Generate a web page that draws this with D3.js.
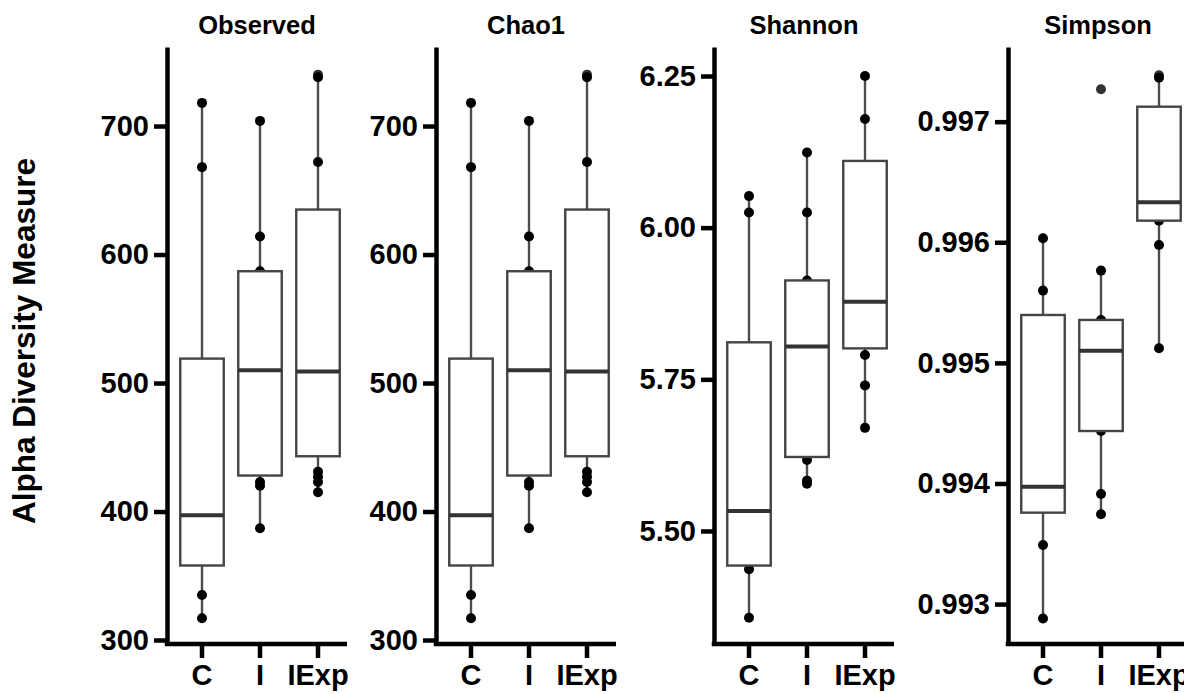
<!DOCTYPE html>
<html>
<head>
<meta charset="utf-8">
<script src="https://cdn.jsdelivr.net/npm/d3@7"></script>
<style>
  body { margin: 0; background: #fff; }
  svg text { font-family: "Liberation Sans", Arial, sans-serif; font-weight: bold; fill: #000; }
</style>
</head>
<body>
<svg id="chart"></svg>
<script>
// groups on the x axis
const groups = ["C", "I", "IExp"];
const metrics = ["Observed", "Chao1", "Shannon", "Simpson"];

// box stats per group: [lower whisker, q1, median, q3, upper whisker]
const observedBox = [[317, 358, 397, 519, 718], [387, 428, 510, 587, 704], [415, 443, 509, 635, 739]];
const observedPts = [[718, 668, 335, 317], [704, 614, 587, 423, 420, 387], [740, 738, 672, 431, 427, 423, 415]];

const chao1Box = [[317, 358, 397, 519, 718], [387, 428, 510, 587, 704], [415, 443, 509, 635, 739]];
const chao1Pts = [[718, 668, 335, 317], [704, 614, 587, 423, 420, 387], [740, 738, 672, 431, 427, 423, 415]];

const shannonBox = [[5.357, 5.443, 5.533, 5.811, 6.052], [5.578, 5.622, 5.804, 5.913, 6.124], [5.670, 5.801, 5.878, 6.110, 6.250]];
const shannonPts = [[6.052, 6.025, 5.437, 5.357], [6.124, 6.025, 5.913, 5.617, 5.583, 5.578], [6.250, 6.179, 5.790, 5.740, 5.670]];

const simpsonBox = [[0.992881, 0.993758, 0.993973, 0.995397, 0.996033], [0.993745, 0.994435, 0.995101, 0.995356, 0.995765], [0.995121, 0.996179, 0.996332, 0.997124, 0.997373]];
const simpsonPts = [[0.996033, 0.995599, 0.99349, 0.992881], [0.997269, 0.995765, 0.995356, 0.994435, 0.993913, 0.993745], [0.997385, 0.997365, 0.996179, 0.995978, 0.995121]];

// y tick values and axis domains
const observedTicks = [300, 400, 500, 600, 700];
const shannonTicks = [5.50, 5.75, 6.00, 6.25];
const simpsonTicks = [0.993, 0.994, 0.995, 0.996, 0.997];
const observedDomain = [296.9, 761.5];
const shannonDomain = [5.3137, 6.2978];
const simpsonDomain = [0.992669, 0.997619];

const width = 1184, height = 694;
const plotTop = 47, plotBottom = 644, panelW = 180;
const panelX = [167, 436, 714, 1008];

const panels = [
  {title: metrics[0], box: observedBox, pts: observedPts, ticks: observedTicks, domain: observedDomain, fmt: d3.format("d")},
  {title: metrics[1], box: chao1Box, pts: chao1Pts, ticks: observedTicks, domain: observedDomain, fmt: d3.format("d")},
  {title: metrics[2], box: shannonBox, pts: shannonPts, ticks: shannonTicks, domain: shannonDomain, fmt: d3.format(".2f")},
  {title: metrics[3], box: simpsonBox, pts: simpsonPts, ticks: simpsonTicks, domain: simpsonDomain, fmt: d3.format(".3f")}
];

const svg = d3.select("#chart").attr("width", width).attr("height", height);

const x = d3.scaleBand().domain(groups).range([6, panelW]).paddingInner(0).paddingOuter(0);
const boxW = x.bandwidth() * 0.75;

panels.forEach((p, i) => {
  const g = svg.append("g").attr("transform", `translate(${panelX[i]},0)`);
  const y = d3.scaleLinear().domain(p.domain).range([plotBottom, plotTop]);

  // whiskers
  const stats = groups.map((k, j) => ({k, s: p.box[j], pts: p.pts[j]}));
  g.selectAll(".whisker-hi").data(stats).enter().append("line")
    .attr("x1", d => x(d.k) + x.bandwidth() / 2).attr("x2", d => x(d.k) + x.bandwidth() / 2)
    .attr("y1", d => y(d.s[3])).attr("y2", d => y(d.s[4]))
    .attr("stroke", "#4d4d4d").attr("stroke-width", 2.4);
  g.selectAll(".whisker-lo").data(stats).enter().append("line")
    .attr("x1", d => x(d.k) + x.bandwidth() / 2).attr("x2", d => x(d.k) + x.bandwidth() / 2)
    .attr("y1", d => y(d.s[0])).attr("y2", d => y(d.s[1]))
    .attr("stroke", "#4d4d4d").attr("stroke-width", 2.4);

  // points
  const pts = stats.flatMap(d => d.pts.map(v => ({k: d.k, v, out: v > d.s[4] + 1e-9 || v < d.s[0] - 1e-9})));
  g.selectAll(".pt").data(pts).enter().append("circle")
    .attr("cx", d => x(d.k) + x.bandwidth() / 2)
    .attr("cy", d => y(d.v))
    .attr("r", 5)
    .attr("fill", d => d.out ? "#333" : "#000");

  // boxes
  g.selectAll(".box").data(stats).enter().append("rect")
    .attr("x", d => x(d.k) + (x.bandwidth() - boxW) / 2)
    .attr("width", boxW)
    .attr("y", d => y(d.s[3]))
    .attr("height", d => y(d.s[1]) - y(d.s[3]))
    .attr("fill", "#fff").attr("stroke", "#454545").attr("stroke-width", 2.4);

  // medians
  g.selectAll(".median").data(stats).enter().append("line")
    .attr("x1", d => x(d.k) + (x.bandwidth() - boxW) / 2)
    .attr("x2", d => x(d.k) + (x.bandwidth() + boxW) / 2)
    .attr("y1", d => y(d.s[2])).attr("y2", d => y(d.s[2]))
    .attr("stroke", "#333").attr("stroke-width", 4);

  // y axis
  const ya = g.append("g")
    .call(d3.axisLeft(y).tickValues(p.ticks).tickFormat(p.fmt).tickSize(13).tickPadding(5).tickSizeOuter(0));
  ya.select(".domain").attr("stroke", "#000").attr("stroke-width", 4.5);
  ya.selectAll(".tick line").attr("stroke", "#000").attr("stroke-width", 4.5);
  ya.selectAll(".tick text").style("font-size", "29px").attr("font-family", null);

  // x axis
  const xa = g.append("g").attr("transform", `translate(0,${plotBottom})`)
    .call(d3.axisBottom(x).tickSize(14).tickPadding(6).tickSizeOuter(0));
  xa.select(".domain").remove();
  xa.selectAll(".tick line").attr("stroke", "#000").attr("stroke-width", 4.5);
  xa.selectAll(".tick text").style("font-size", "29px").attr("font-family", null);
  g.append("line")
    .attr("x1", -2.25).attr("x2", panelW)
    .attr("y1", plotBottom).attr("y2", plotBottom)
    .attr("stroke", "#000").attr("stroke-width", 4.5);

  // panel title
  g.append("text")
    .attr("x", panelW / 2)
    .attr("y", 34)
    .attr("text-anchor", "middle")
    .style("font-size", "25.5px")
    .text(p.title);
});

// y axis title
svg.append("text")
  .attr("transform", `translate(35,${341}) rotate(-90)`)
  .attr("text-anchor", "middle")
  .style("font-size", "31.5px")
  .text("Alpha Diversity Measure");
</script>
</body>
</html>
